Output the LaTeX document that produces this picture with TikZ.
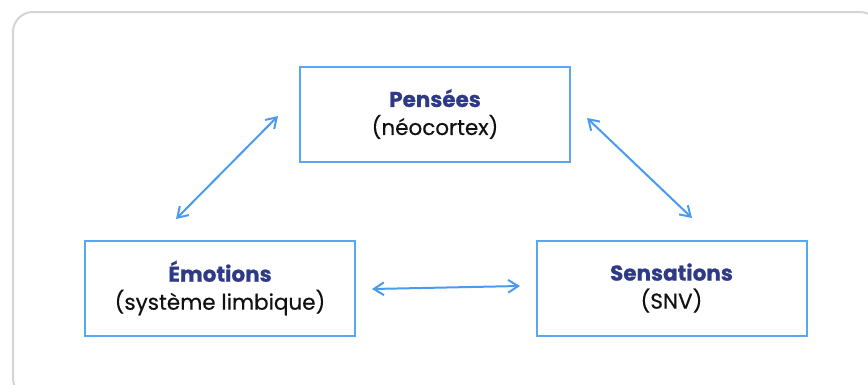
\documentclass[tikz,border=0pt]{standalone}
\usepackage{fontspec}
\setmainfont{Poppins}[UprightFeatures={FakeBold=0.4},BoldFeatures={FakeBold=0.8}]
\usetikzlibrary{arrows.meta}
\definecolor{frame}{HTML}{D4D4D4}
\definecolor{boxblue}{HTML}{5AA6F2}
\definecolor{arrowblue}{HTML}{4A9BEF}
\definecolor{titleblue}{HTML}{2E3A87}
\definecolor{textblack}{HTML}{111111}
\tikzset{
  area/.style={x=1pt,y=-1pt},
  brainbox/.style={draw=boxblue,line width=2pt,minimum width=270pt,minimum height=95pt,
    align=center,inner sep=0pt,font=\fontsize{21.5}{28}\selectfont,text=textblack},
  link/.style={draw=arrowblue,line width=2pt,
    {Straight Barb[angle=90:9pt,length=10pt,line width=2pt]}-{Straight Barb[angle=90:9pt,length=10pt,line width=2pt]}}
}
\begin{document}
\begin{tikzpicture}[area]
  \useasboundingbox (0,0) rectangle (868,384);
  % outer card, running past the lower right edge
  \begin{scope}
    \clip (0,0) rectangle (868,384);
    \draw[frame,line width=2pt,rounded corners=20pt] (13,12) rectangle (880,398);
  \end{scope}
  % the three boxes
  \node[brainbox] (pensees) at (435,114) {\textcolor{titleblue}{\bfseries Pensées}\\(néocortex)};
  \node[brainbox] (emotions) at (220,288) {\textcolor{titleblue}{\bfseries Émotions}\\(système limbique)};
  \node[brainbox] (sensations) at (671.5,288) {\textcolor{titleblue}{\bfseries Sensations}\\(SNV)};
  % arrow ends
  \coordinate (a1) at (176,219);
  \coordinate (a2) at (278,116);
  \coordinate (b1) at (587,118);
  \coordinate (b2) at (692,218);
  \coordinate (c1) at (372,289);
  \coordinate (c2) at (520,286);
  \draw[link] (a1) -- (a2);
  \draw[link] (b1) -- (b2);
  \draw[link] (c1) -- (c2);
\end{tikzpicture}
\end{document}
